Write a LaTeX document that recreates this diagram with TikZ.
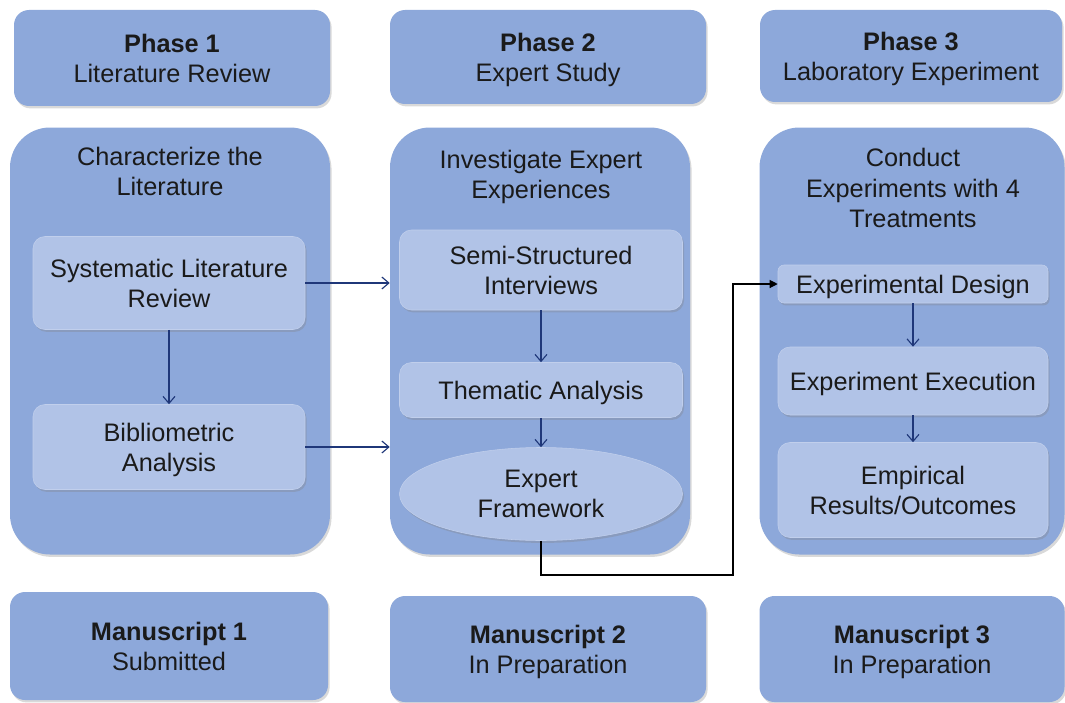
\documentclass[tikz,border=0pt]{standalone}
\usepackage{fontspec}
\setmainfont{Liberation Sans}
\usepackage{xcolor}
\usepackage{tikz}
\usetikzlibrary{calc}
\usetikzlibrary{shapes,arrows,positioning,shadows}
\usetikzlibrary{shapes.geometric}
\usetikzlibrary{arrows.meta}

\definecolor{boxblue}{HTML}{8DA8DA}
\definecolor{innerblue}{HTML}{B1C3E7}
\definecolor{arrowblue}{HTML}{1F3779}
\definecolor{textdark}{HTML}{1A1A1A}

\newlength\pxl
\setlength\pxl{0.025cm}

\begin{document}
\begin{tikzpicture}[x=0.025cm,y=-0.025cm,
	every node/.style={font=\fontsize{18}{21.5}\selectfont,text=textdark,align=center,text depth=0pt},
	shade/.style={drop shadow={opacity=0.3,shadow xshift=0.04cm,shadow yshift=-0.06cm}},
	headbox/.style={draw=none,fill=boxblue,rounded corners=15\pxl,shade},
	groupbox/.style={draw=none,fill=boxblue,rounded corners=40\pxl,shade},
	stepbox/.style={draw=innerblue!80!white,fill=innerblue,rounded corners=12\pxl,shade},
	flow/.style={-{Straight Barb[length=0.175cm,width=0.3cm]},arrowblue,thick},
	link/.style={-{Triangle[length=0.2cm,width=0.2cm]},black,thick}]
		\useasboundingbox (0,0) rectangle (1065,703);
		% phases
		\node[headbox,minimum width=316\pxl,minimum height=96\pxl] (phase1) at (172,58) {\textbf{Phase 1}\\Literature Review};
		\node[headbox,minimum width=316\pxl,minimum height=94\pxl] (phase2) at (548,57) {\textbf{Phase 2}\\Expert Study};
		\node[headbox,minimum width=302\pxl,minimum height=92\pxl] (phase3) at (911,56) {\textbf{Phase 3}\\Laboratory Experiment};
		% groups
		\node[groupbox,minimum width=320\pxl,minimum height=427\pxl] (group1) at (170,341) {};
		\node[groupbox,minimum width=300\pxl,minimum height=427\pxl] (group2) at (540,341) {};
		\node[groupbox,minimum width=305\pxl,minimum height=427\pxl] (group3) at (912,341) {};
		\node (title1) at (170,171) {Characterize the\\Literature};
		\node (title2) at (541,174) {Investigate Expert\\Experiences};
		\node (title3) at (913,188) {Conduct\\Experiments with 4\\Treatments};
		% steps
		\node[stepbox,minimum width=272\pxl,minimum height=93\pxl] (slr) at (169,283) {Systematic Literature\\Review};
		\node[stepbox,minimum width=272\pxl,minimum height=85\pxl] (biblio) at (169,447) {Bibliometric\\Analysis};
		\node[stepbox,minimum width=283\pxl,minimum height=80\pxl] (interviews) at (541,270) {Semi-Structured\\Interviews};
		\node[stepbox,minimum width=283\pxl,minimum height=55\pxl] (thematic) at (541,390) {Thematic Analysis};
		\node[ellipse,draw=innerblue!80!white,fill=innerblue,shade,minimum width=283\pxl,minimum height=93\pxl,inner sep=0pt] (framework) at (541,494) {Expert\\Framework};
		\node[stepbox,rounded corners=6\pxl,minimum width=270\pxl,minimum height=38\pxl,inner sep=0pt] (design) at (913,284) {Experimental Design};
		\node[stepbox,minimum width=270\pxl,minimum height=68\pxl] (execution) at (913,381) {Experiment Execution};
		\node[stepbox,minimum width=270\pxl,minimum height=95\pxl] (results) at (913,490) {Empirical\\Results/Outcomes};
		% manuscripts
		\node[headbox,minimum width=318\pxl,minimum height=108\pxl] (paper1) at (169,646) {\textbf{Manuscript 1}\\Submitted};
		\node[headbox,minimum width=316\pxl,minimum height=106\pxl] (paper2) at (548,649) {\textbf{Manuscript 2}\\In Preparation};
		\node[headbox,minimum width=305\pxl,minimum height=106\pxl] (paper3) at (912,649) {\textbf{Manuscript 3}\\In Preparation};
		% arrows
		\draw[flow] (slr.east) -- (slr.east -| group2.west);
		\draw[flow] (biblio.east) -- (biblio.east -| group2.west);
		\draw[flow] (slr.south) -- (biblio.north);
		\draw[flow] (interviews.south) -- (thematic.north);
		\draw[flow] (thematic.south) -- (framework.north);
		\draw[flow] (design.south) -- (execution.north);
		\draw[flow] (execution.south) -- (results.north);
		\coordinate (bend) at (733,575);
		\draw[link] (framework.south) |- (bend) |- (design.west);
	\end{tikzpicture}
\end{document}
